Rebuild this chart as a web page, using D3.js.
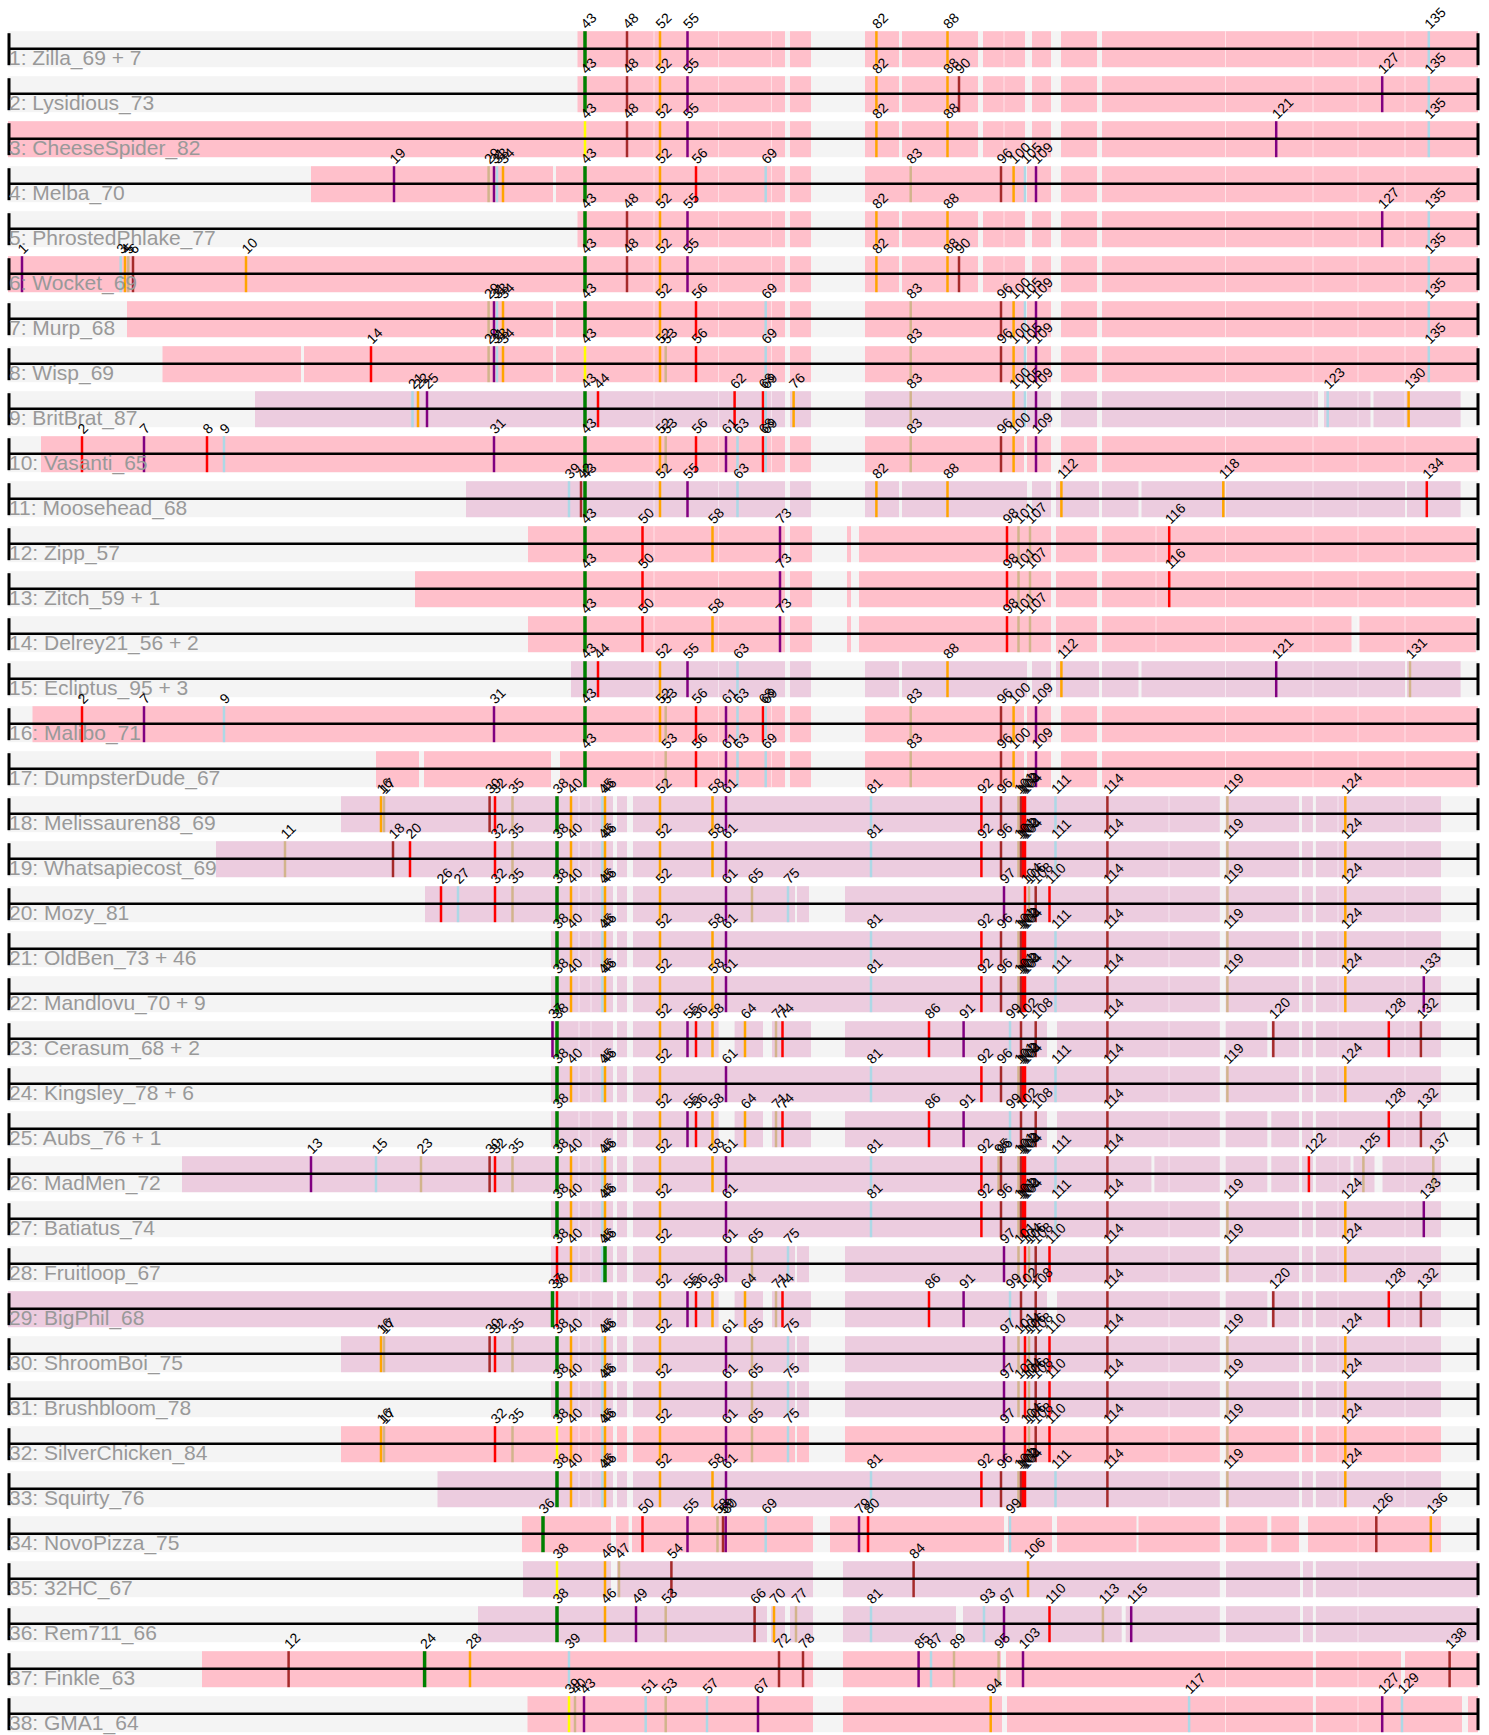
<!DOCTYPE html>
<html>
<head>
<meta charset="utf-8">
<script src="https://cdn.jsdelivr.net/npm/d3@7/dist/d3.min.js"></script>
<style>
  body { margin: 0; background: #fff; }
  svg { display: block; font-family: "Liberation Sans", Arial, sans-serif; }
  .row-label { font-size: 21px; fill: #999; }
  .tick-label { font-size: 14px; fill: #000; }
</style>
</head>
<body>
<div id="chart"></div>
<script>
// ---- data -------------------------------------------------------------
// phage names, one per track
const phages = [
  "Zilla_69 + 7", "Lysidious_73", "CheeseSpider_82", "Melba_70", "PhrostedPhlake_77",
  "Wocket_69", "Murp_68", "Wisp_69", "BritBrat_87", "Vasanti_65",
  "Moosehead_68", "Zipp_57", "Zitch_59 + 1", "Delrey21_56 + 2", "Ecliptus_95 + 3",
  "Malibo_71", "DumpsterDude_67", "Melissauren88_69", "Whatsapiecost_69", "Mozy_81",
  "OldBen_73 + 46", "Mandlovu_70 + 9", "Cerasum_68 + 2", "Kingsley_78 + 6", "Aubs_76 + 1",
  "MadMen_72", "Batiatus_74", "Fruitloop_67", "BigPhil_68", "ShroomBoi_75",
  "Brushbloom_78", "SilverChicken_84", "Squirty_76", "NovoPizza_75", "32HC_67",
  "Rem711_66", "Finkle_63", "GMA1_64"
];

// map coordinate of each pham column (shared alignment)
const phamCoord = {
  1: 22, 2: 82, 3: 120.7, 4: 125, 5: 128.3, 6: 133, 7: 144, 8: 207, 9: 224, 10: 246,
  11: 285, 12: 288.6, 13: 311, 14: 371, 15: 376, 16: 381, 17: 384, 18: 393, 19: 394, 20: 410,
  21: 412.5, 22: 418, 23: 421, 24: 424.6, 25: 427, 26: 441, 27: 458, 28: 470, 29: 488.6, 30: 489.6,
  31: 494, 32: 495, 33: 497, 34: 503, 35: 512.5, 36: 543, 37: 552.5, 38: 557, 39: 569, 40: 571,
  42: 581, 43: 585, 44: 598, 45: 602.5, 46: 605, 47: 619, 48: 627, 49: 636, 50: 642.5,
  51: 645.7, 52: 660, 53: 665.7, 54: 671.4, 55: 687.5, 56: 696, 57: 707, 58: 712.5, 59: 723, 60: 725.7,
  61: 726, 62: 734.6, 63: 737.5, 64: 745, 65: 752, 66: 754.6, 67: 758, 68: 763, 69: 765.7, 70: 774,
  71: 776, 72: 779, 73: 780, 74: 782.5, 75: 788, 76: 793.6, 77: 796, 78: 803, 79: 859, 80: 868,
  81: 871, 82: 876.4, 83: 910.7, 84: 913.6, 85: 918.6, 86: 929, 87: 931, 88: 947.5, 89: 954, 90: 959,
  91: 963.6, 92: 981.4, 93: 984, 94: 990.7, 95: 998.6, 96: 1001, 97: 1004, 98: 1007, 99: 1010, 100: 1013.6,
  101: 1018.5, 102: 1021, 103: 1023, 104: 1025, 105: 1025, 106: 1029, 107: 1030, 108: 1035.7, 109: 1036, 110: 1049.5,
  111: 1055.5, 112: 1061.4, 113: 1102.9, 114: 1107.4, 115: 1131.2, 116: 1169.2, 117: 1189.1, 118: 1223.3, 119: 1227.4, 120: 1273.3,
  121: 1276.2, 122: 1308.9, 123: 1327.7, 124: 1345.3, 125: 1363.4, 126: 1376.3, 127: 1382.2, 128: 1388.8, 129: 1402, 130: 1408.6,
  131: 1410, 132: 1420.9, 133: 1423.8, 134: 1426.8, 135: 1428.8, 136: 1430.8, 137: 1433.3, 138: 1449.6
};

// ticks per track: pham[@coord]colourCode
const tickSpecs = [
  "43g 48d 52o 55p 82o 88o 135b",
  "43g 48d 52o 55p 82o 88o 90d 127p 135b",
  "43y 48d 52o 55p 82o 88o 121p 135b",
  "19p 29t 31p 33b 34o 43g 52o 56r 69b 83t 96d 100o 105b 109p",
  "43g 48d 52o 55p 82o 88o 127p 135b",
  "1p 3b 4o 5t 6d 10o 43g 48d 52o 55p 82o 88o 90d 135b",
  "29t 31p 33b 34o 43g 52o 56r 69b 83t 96d 100o 105b 109p 135b",
  "14r 29t 31p 33b 34o 43y 52o 53t 56r 69b 83t 96d 100o 105b 109p 135b",
  "21b 22o 25p 43g 44r 62r 68r 69b 76o 83t 100o 105b 109p 123b 130o",
  "2r 7p 8r 9b 31p 43g 52o 53t 56r 61p 63b 68r 69b 83t 96d 100o 109p",
  "39b 42d 43g 52o 55p 63b 82o 88o 112o 118o 134r",
  "43g 50r 58o 73p 98r 101t 107t 116r",
  "43g 50r 73p 98r 101t 107t 116r",
  "43g 50r 58o 73p 98r 101t 107t",
  "43g 44r 52o 55p 63b 88o 112o 121p 131t",
  "2r 7p 9b 31p 43g 52o 53t 56r 61p 63b 68r 69b 83t 96d 100o 109p",
  "43g 53t 56r 61p 63b 69b 83t 96d 100o 109p",
  "16o 17t 30d 32r 35t 38g 40o 45b 46o 52o 58o 61p 81b 92r 96d 101t 102d 103r 104r 111b 114d 119t 124o",
  "11t 18d 20r 32r 35t 38g 40o 45b 46o 52o 58o 61p 81b 92r 96d 101t 102d 103r 104r 111b 114d 119t 124o",
  "26r 27b 32r 35t 38g 40o 45b 46o 52o 61p 65t 75b 97p 104r 106t 108d 110r 114d 119t 124o",
  "38g 40o 45b 46o 52o 58o 61p 81b 92r 96d 101t 102d 103r 104r 111b 114d 119t 124o",
  "38g 40o 45b 46o 52o 58o 61p 81b 92r 96d 101t 102d 103r 104r 111b 114d 119t 124o 133p",
  "37p 38g 52o 55p 56r 58o 64o 71t 74r 86r 91p 99b 102d 108d 114d 120d 128r 132d",
  "38g 40o 45b 46o 52o 61p 81b 92r 96d 101t 102d 103r 104r 111b 114d 119t 124o",
  "38g 52o 55p 56r 58o 64o 71t 74r 86r 91p 99b 102d 108d 114d 128r 132d",
  "13p 15b 23t 30d 32r 35t 38g 40o 45b 46o 52o 58o 61p 81b 92r 95t 96d 101t 102d 103r 104r 111b 114d 122r 125t 137t",
  "38g 40o 45b 46o 52o 61p 81b 92r 96d 101t 102d 103r 104r 111b 114d 119t 124o 133p",
  "38r 40o 45b 46g 52o 61p 65t 75b 97p 101t 104r 106t 108d 110r 114d 119t 124o",
  "37g 38r 52o 55p 56r 58o 64o 71t 74r 86r 91p 99b 102d 108d 114d 120d 128r 132d",
  "16o 17t 30d 32r 35t 38g 40o 45b 46o 52o 61p 65t 75b 97p 101t 104r 106t 108d 110r 114d 119t 124o",
  "38g 40o 45b 46o 52o 61p 65t 75b 97p 101t 104r 106t 108d 110r 114d 119t 124o",
  "16o 17t 32r 35t 38y 40o 45b 46o 52o 61p 65t 75b 97p 104r 106t 108d 110r 114d 119t 124o",
  "38g 40o 45b 46o 52o 58o 61p 81b 92r 96d 101t 102d 103r 104r 111b 114d 119t 124o",
  "36g 50r 55p 58@717.5t 59d 60p 69b 79p 80r 99b 126d 136o",
  "38y 46o 47t 54d 84d 106@1028o",
  "38g 46o 49p 53t 66d 70o 77t 81b 93b 97p 110r 113t 115p",
  "12d 24g 28o 39b 72d 78d 85p 87b 89t 95t 103p 138d",
  "39y 40@575t 43@584p 51b 53t 57b 67p 94o 117b 127p 129b"
];

// coloured genome extent of each track
const spanFrom = [577.5, 577.5, 8, 311, 577.5, 8, 127, 162.5, 255, 41,
  466, 528, 415, 528, 571, 32.5, 376, 341, 216, 425,
  551, 551, 551, 551, 551, 182, 551, 551, 8, 341,
  551, 341, 437.5, 522, 523, 478, 202, 527.5];
const spanTo = [1478, 1478, 1478, 1478, 1478, 1478, 1478, 1478, 1460.6, 1478,
  1460.6, 1475.8, 1475.8, 1475.8, 1460.6, 1478, 1478, 1441, 1441, 1441,
  1441, 1441, 1441, 1441, 1441, 1441, 1441, 1441, 1441, 1441,
  1441, 1441, 1441, 1441, 1478, 1478, 1478, 1478];
const spanTint = "PPPPPPPPLPLPPPLPPLLLLLLLLLLLLLLPLPLLPP".split("");
const gapSetOf = "AAABAABBBBDCCCDBBEEFEEGEGEEFGFFFE-----".split("");

// shared gaps between genes
const gapSets = {
  A: [[785, 790], [811, 865], [899, 902], [978, 983], [1025, 1032], [1051, 1061], [1097, 1102]],
  B: [[785, 790], [811, 865], [1024, 1027], [1051, 1061], [1097, 1102]],
  C: [[785, 790], [812, 847], [851, 859], [1051, 1056], [1097, 1102]],
  D: [[785, 790], [811, 865], [899, 902], [1027, 1032], [1051, 1056], [1099, 1102], [1138.5, 1141.5], [1405, 1407]],
  E: [[613, 617], [627, 633], [1219.8, 1225.7], [1299, 1302], [1312.9, 1315.9]],
  F: [[613, 617], [627, 633], [795, 797], [809, 845], [1219.8, 1225.7], [1299, 1302], [1312.9, 1315.9]],
  G: [[613, 617], [627, 633], [718.6, 734.6], [763, 772], [811, 845], [1047, 1057], [1219.8, 1225.7], [1267.3, 1271.3], [1299, 1302], [1312.9, 1315.9]],
  "-": []
};
// thin boundaries between adjacent genes
const seamSets = {
  A: [654, 718.6, 771.4, 1004, 1225.5, 1313, 1358, 1405],
  B: [654, 718.6, 771.4, 1225.5, 1313, 1358, 1405],
  C: [654, 718.6, 1156, 1225.5, 1313, 1358, 1405],
  D: [654, 718.6, 1225.5, 1313, 1358],
  E: [579, 591, 1169, 1338, 1405],
  F: [579, 591, 1169, 1338, 1405],
  G: [579, 591, 1169, 1338, 1405],
  "-": [1225.5, 1358]
};
// track-specific gaps
const extraGaps = {
  4: [[553, 556]], 7: [[553, 556]], 8: [[301, 304], [553, 556]],
  9: [[1318, 1324], [1370.5, 1373.5]],
  14: [[1351.5, 1359.5]],
  17: [[419, 424], [551, 560]],
  26: [[1151.4, 1154.4], [1267.3, 1271.3], [1350.5, 1353.5], [1374.5, 1382.5]],
  34: [[611, 616], [628.6, 632], [813, 830], [1004, 1008], [1052, 1057], [1136.5, 1138.5], [1219.8, 1225.7], [1267.3, 1271.3], [1299, 1308]],
  35: [[611, 617], [813, 843], [1219.8, 1225.7], [1300, 1303], [1312.9, 1315.9]],
  36: [[767, 771], [785, 790], [813, 843], [956, 963], [1121.7, 1125.7], [1219.8, 1225.7], [1300, 1303], [1312.9, 1315.9]],
  37: [[813, 843], [1001, 1006], [1312.9, 1315.9], [1401, 1405]],
  38: [[813, 843], [1002, 1007], [1312.9, 1315.9], [1462, 1468]]
};

// ---- styles -----------------------------------------------------------
const COLOR = { g: "#008000", y: "#ffff00", d: "#a52a2a", o: "#ffa500",
  p: "#800080", r: "#ff0000", b: "#add8e6", t: "#d2b48c" };
const TINT = { P: "#ffc0cb", L: "#ecccdf" };
const BAND = "#f4f4f4";

const W = 1489, H = 1735;
const X0 = 8, X1 = 1478;
const UP = 17.5, DN = 18.5;   // band extent around the axis line

const x = d3.scaleLinear().domain([X0, X1]).range([X0, X1]);
const y = d3.scaleLinear().domain([0, phages.length - 1]).range([48.7, 48.7 + 45 * (phages.length - 1)]);

function parseTicks(spec) {
  return spec.split(" ").map(s => {
    const m = s.match(/^(\d+)(?:@([\d.]+))?([a-z])$/);
    return { label: m[1], pos: m[2] ? +m[2] : phamCoord[m[1]], color: COLOR[m[3]], code: m[3] };
  });
}

// split [from,to] by the gaps
function carve(from, to, gaps) {
  let segs = [[from, to]];
  gaps.forEach(([a, b]) => {
    const next = [];
    segs.forEach(([s, e]) => {
      if (b <= s || a >= e) { next.push([s, e]); return; }
      if (a > s) next.push([s, a]);
      if (b < e) next.push([b, e]);
    });
    segs = next;
  });
  return segs;
}

const svg = d3.select("#chart").append("svg")
  .attr("width", W).attr("height", H).attr("viewBox", `0 0 ${W} ${H}`);

phages.forEach((name, i) => {
  const g = svg.append("g").attr("transform", `translate(0,${y(i)})`);

  g.append("rect").attr("x", x(X0)).attr("width", x(X1) - x(X0))
    .attr("y", -UP).attr("height", UP + DN).attr("fill", BAND);

  const set = gapSetOf[i];
  const gaps = gapSets[set].concat(extraGaps[i + 1] || []);
  const segs = carve(spanFrom[i], spanTo[i], gaps);
  g.selectAll(".seg").data(segs).join("rect").attr("class", "seg")
    .attr("x", d => x(d[0])).attr("width", d => x(d[1]) - x(d[0]))
    .attr("y", -UP).attr("height", UP + DN).attr("fill", TINT[spanTint[i]]);

  const seams = seamSets[set].filter(v => v > spanFrom[i] && v < spanTo[i]);
  g.selectAll(".seam").data(seams).join("line").attr("class", "seam")
    .attr("x1", d => x(d)).attr("x2", d => x(d))
    .attr("y1", -UP).attr("y2", DN)
    .attr("stroke", "#fff").attr("stroke-opacity", 0.55).attr("stroke-width", 1);

  const ticks = parseTicks(tickSpecs[i]);
  g.selectAll(".tk").data(ticks).join("line").attr("class", "tk")
    .attr("x1", d => x(d.pos)).attr("x2", d => x(d.pos))
    .attr("y1", -UP).attr("y2", DN)
    .attr("stroke", d => d.color)
    .attr("stroke-width", d => d.code === "g" ? 3.5 : 2.5);

  // axis line and end caps
  g.append("line").attr("x1", x(X0)).attr("x2", x(X1)).attr("y1", 0).attr("y2", 0)
    .attr("stroke", "#000").attr("stroke-width", 2.6);
  [X0 + 1, X1].forEach(v => g.append("line")
    .attr("x1", x(v)).attr("x2", x(v)).attr("y1", -UP + 2).attr("y2", DN - 2)
    .attr("stroke", "#000").attr("stroke-width", 3));

  g.append("text").attr("class", "row-label").attr("x", 9).attr("y", 16.5)
    .text(`${i + 1}: ${name}`);

  g.selectAll(".tick-label").data(ticks).join("text").attr("class", "tick-label")
    .attr("transform", d => `translate(${x(d.pos) + 1.5},${-UP - 1.5}) rotate(-45)`)
    .text(d => d.label);
});
</script>
</body>
</html>
